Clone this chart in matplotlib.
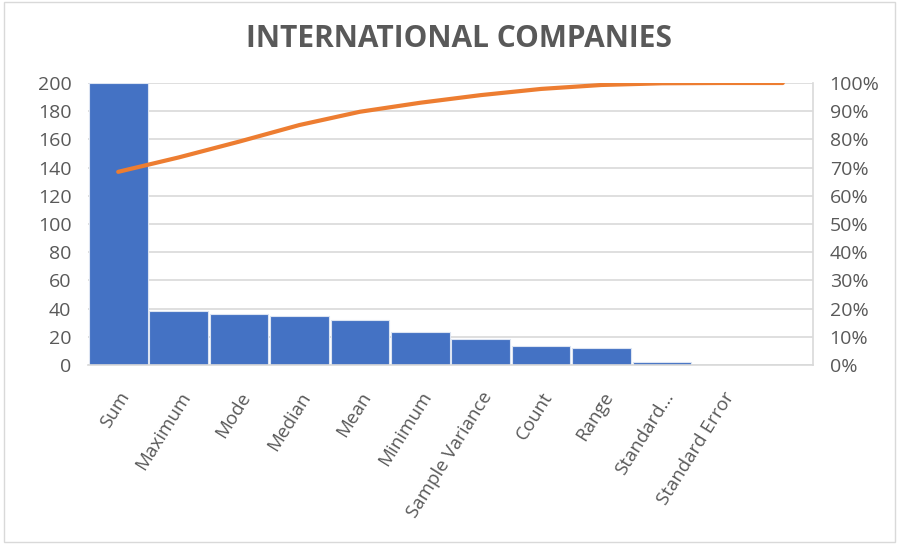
import matplotlib
matplotlib.use('Agg')
import matplotlib.pyplot as plt
from matplotlib.patches import Rectangle
from matplotlib.ticker import FuncFormatter

# data
categories = ['Sum', 'Maximum', 'Mode', 'Median', 'Mean', 'Minimum',
              'Sample Variance', 'Count', 'Range', 'Standard...', 'Standard Error', '']
values = [200, 38.5, 36, 34.5, 32, 23.6, 18.7, 13.2, 11.8, 2.4, 0, 0]
cum_pct = [68.5, 73.6, 79.2, 85.1, 89.8, 93.0, 95.7, 97.9, 99.3, 99.9, 100, 100]

plt.rcParams['font.family'] = ['Open Sans', 'DejaVu Sans']
grey_txt = '#595959'
grid_c = '#d9d9d9'

fig = plt.figure(figsize=(8.99, 5.44), dpi=100)
ax = fig.add_axes([88 / 899, 1 - 365 / 544, (813 - 88) / 899, (365 - 83) / 544])
x = list(range(len(categories)))

ax.bar(x, values, width=0.97, color='#4472C4', edgecolor='#dce4f2', linewidth=0.8, zorder=2)
ax.set_xlim(-0.5, len(categories) - 0.5)
ax.set_ylim(0, 200)
ax.set_yticks(range(0, 201, 20))
ax.yaxis.grid(True, color=grid_c, linewidth=1.2, zorder=0)
ax.set_axisbelow(True)
for s in ['top', 'left', 'right']:
    ax.spines[s].set_visible(False)
ax.spines['bottom'].set_color(grid_c)
ax.spines['bottom'].set_linewidth(1.2)
ax.tick_params(axis='both', length=0, colors=grey_txt, labelsize=14)
ax.tick_params(axis='y', pad=12)
ax.set_xticks(x)
ax.set_xticklabels(categories, rotation=58, ha='right', va='top', rotation_mode='anchor',
                   fontsize=13.5)
ax.tick_params(axis='x', pad=17)

ax2 = ax.twinx()
ax2.plot(x, cum_pct, color='#ED7D31', linewidth=3, solid_capstyle='round', zorder=3)
ax2.set_ylim(0, 100)
ax2.set_yticks(range(0, 101, 10))
ax2.yaxis.set_major_formatter(FuncFormatter(lambda v, p: f'{int(v)}%'))
ax2.tick_params(axis='y', length=0, colors=grey_txt, labelsize=14, pad=12)
for s in ['top', 'left', 'bottom']:
    ax2.spines[s].set_visible(False)
ax2.spines['right'].set_color(grid_c)
ax2.spines['right'].set_linewidth(1.2)

fig.text(458.5 / 899, 1 - 39 / 544, 'INTERNATIONAL COMPANIES', ha='center', va='center',
         fontsize=21.5, fontweight='bold', color=grey_txt)

fig.patches.append(Rectangle((0.004, 0.004), 0.992, 0.992, transform=fig.transFigure,
                             fill=False, edgecolor=grid_c, linewidth=1))

fig.savefig('out.png', dpi=100)
